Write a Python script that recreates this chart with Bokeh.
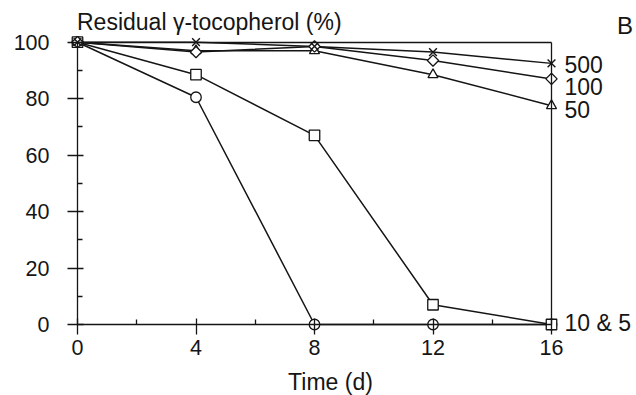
from bokeh.plotting import figure
from bokeh.models import FixedTicker, LinearAxis, Label, Range1d
from bokeh.embed import file_html
from bokeh.resources import INLINE

# ---- data ----
days = [0, 4, 8, 12, 16]
s500 = [100, 100, 98.5, 96.5, 92.5]
s100 = [100, 96.5, 98.5, 93.5, 87]
s50 = [100, 97, 97, 88.5, 77.5]
s10 = [100, 88.5, 67, 7, 0]
s5 = [100, 80.5, 0, 0, 0]

x_ticks = [0, 4, 8, 12, 16]
x_minor = [2, 6, 10, 14]
y_ticks = [0, 20, 40, 60, 80, 100]
y_minor = [10, 30, 50, 70, 90]

series_labels = ["500", "100", "50", "10 & 5"]
title_text = "Residual \u03b3-tocopherol (%)"
x_label = "Time (d)"
panel_letter = "B"

FONT = "Liberation Sans"
INK = "#151515"

W, H = 636, 395
# pixel layout targets (canvas coordinates)
PX_X0, PX_X1 = 77.0, 551.0      # x = first tick / last tick
PX_Y0, PX_Y1 = 324.0, 41.7      # y = first tick / last tick
sx = (PX_X1 - PX_X0) / (x_ticks[-1] - x_ticks[0])
sy = (PX_Y0 - PX_Y1) / (y_ticks[-1] - y_ticks[0])
x_range = Range1d(x_ticks[0] - PX_X0 / sx, x_ticks[-1] + (W - PX_X1) / sx)
y_range = Range1d(y_ticks[0] - (H - PX_Y0) / sy, y_ticks[-1] + PX_Y1 / sy)

p = figure(width=W, height=H, output_backend="svg", toolbar_location=None,
           x_range=x_range, y_range=y_range,
           min_border=0, min_border_left=0, min_border_right=0,
           min_border_top=0, min_border_bottom=0)
p.title.visible = False
p.outline_line_color = None
p.xgrid.visible = False
p.ygrid.visible = False
p.background_fill_color = "white"
p.border_fill_color = "white"

def style_axis(ax, ticks, minor):
    ax.ticker = FixedTicker(ticks=ticks, minor_ticks=minor)
    ax.axis_line_color = INK
    ax.axis_line_width = 1.3
    ax.major_tick_line_color = INK
    ax.minor_tick_line_color = INK
    ax.major_tick_line_width = 1.3
    ax.minor_tick_line_width = 1.3
    ax.major_tick_out = 10
    ax.major_tick_in = 6
    ax.minor_tick_out = 0
    ax.minor_tick_in = 5
    ax.major_label_text_font = FONT
    ax.major_label_text_font_size = "21.5px"
    ax.major_label_text_color = INK

xa = p.xaxis[0]
style_axis(xa, x_ticks, x_minor)
xa.fixed_location = y_ticks[0]
xa.bounds = (x_ticks[0], x_ticks[-1])
xa.major_label_standoff = 5

ya = p.yaxis[0]
style_axis(ya, y_ticks, y_minor)
ya.fixed_location = x_ticks[0]
ya.bounds = (y_ticks[0], y_ticks[-1])
ya.major_label_standoff = 18

# top and right border lines (no ticks)
top = LinearAxis(fixed_location=y_ticks[-1], bounds=(x_ticks[0], x_ticks[-1]),
                 ticker=FixedTicker(ticks=[], minor_ticks=[]),
                 axis_line_color=INK, axis_line_width=1.3)
p.add_layout(top, "above")
right = LinearAxis(fixed_location=x_ticks[-1], bounds=(y_ticks[0], y_ticks[-1]),
                   ticker=FixedTicker(ticks=[], minor_ticks=[]),
                   axis_line_color=INK, axis_line_width=1.3)
p.add_layout(right, "right")

# lines
for ys in (s500, s100, s50, s5, s10):
    p.line(days, ys, line_color=INK, line_width=1.5)

# markers
p.scatter(days, s5, marker="circle", size=10.5, fill_color="white", line_color=INK, line_width=1.3)
p.scatter(days, s10, marker="square", size=10.5, fill_color="white", line_color=INK, line_width=1.3)
p.scatter(days, s50, marker="triangle", size=10, fill_color="white", line_color=INK, line_width=1.3)
p.scatter(days, s100, marker="square", angle=0.785398, size=8, fill_color="white", line_color=INK, line_width=1.3)
p.scatter(days, s500, marker="x", size=11, line_color=INK, line_width=1.4)

SHIFT = 7.7  # baseline correction (px, upwards)

# series labels at the right end
offsets = [-8.8, -15, -11.5, -6]
ends = [s500[-1], s100[-1], s50[-1], s10[-1]]
for txt, yv, off in zip(series_labels, ends, offsets):
    p.add_layout(Label(x=days[-1], y=yv, x_offset=13, y_offset=off + SHIFT, text=txt,
                       text_font=FONT, text_font_size="23px", text_color=INK,
                       text_baseline="alphabetic", text_align="left"))

p.add_layout(Label(x=76.5, y=H - 29.5 + SHIFT, x_units="screen", y_units="screen", text=title_text,
                   text_font=FONT, text_font_size="23px", text_color=INK,
                   text_baseline="alphabetic", text_align="left"))
p.add_layout(Label(x=616.5, y=H - 33 + SHIFT, x_units="screen", y_units="screen", text=panel_letter,
                   text_font=FONT, text_font_size="24px", text_color=INK,
                   text_baseline="alphabetic", text_align="left"))
p.add_layout(Label(x=330, y=H - 389.5 + SHIFT, x_units="screen", y_units="screen", text=x_label,
                   text_font=FONT, text_font_size="23px", text_color=INK,
                   text_baseline="alphabetic", text_align="center"))

open("out.html", "w").write(file_html(p, INLINE))
